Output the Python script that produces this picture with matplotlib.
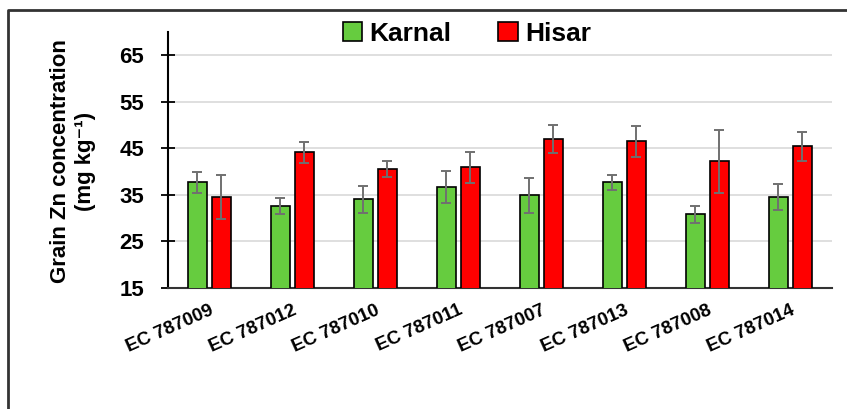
import numpy as np
import matplotlib
matplotlib.use('Agg')
import matplotlib.pyplot as plt
from matplotlib.lines import Line2D

plt.rcParams['font.family'] = ['Liberation Sans', 'DejaVu Sans']

# genotypes and grain Zn values
genotypes = ['EC 787009', 'EC 787012', 'EC 787010', 'EC 787011',
             'EC 787007', 'EC 787013', 'EC 787008', 'EC 787014']
karnal = [37.7, 32.6, 34.0, 36.7, 34.9, 37.7, 30.8, 34.5]
karnal_err = [2.2, 1.7, 3.0, 3.5, 3.7, 1.6, 1.9, 2.8]
hisar = [34.5, 44.1, 40.5, 40.9, 46.9, 46.5, 42.2, 45.4]
hisar_err = [4.7, 2.3, 1.7, 3.3, 3.0, 3.3, 6.7, 3.1]
yticks = [15, 25, 35, 45, 55, 65]

fig = plt.figure(figsize=(8.47, 4.09), dpi=100)
ax = fig.add_axes([0.198, 0.296, 0.784, 0.626])

x = np.arange(len(genotypes))
w = 0.23
off = 0.145
err_kw = dict(ecolor='#707070', elinewidth=1.4, capsize=3.5, capthick=1.4)
ax.bar(x - off, karnal, w, bottom=0, color='#66CC3F', edgecolor='black', linewidth=1.2,
       yerr=karnal_err, error_kw=err_kw, label='Karnal', zorder=3)
ax.bar(x + off, hisar, w, bottom=0, color='#FF0000', edgecolor='black', linewidth=1.2,
       yerr=hisar_err, error_kw=err_kw, label='Hisar', zorder=3)

ax.set_xlim(-0.5, len(genotypes) - 0.5)
ax.set_ylim(15, 70)
ax.set_yticks(yticks)
ax.set_yticklabels([str(t) for t in yticks], fontsize=16, fontweight='bold')
ax.tick_params(axis='y', direction='inout', length=10, width=1.3, pad=12)
ax.set_xticks(x)
ax.set_xticklabels(genotypes, rotation=24, ha='right', rotation_mode='anchor',
                   fontsize=13.5, fontweight='bold')
ax.tick_params(axis='x', length=0, pad=10)
ax.yaxis.grid(True, color='#D9D9D9', linewidth=1.2, zorder=0)
ax.set_axisbelow(True)
for s in ['top', 'right']:
    ax.spines[s].set_visible(False)
ax.spines['left'].set_linewidth(1.5)
ax.spines['bottom'].set_linewidth(1.5)
ax.spines['bottom'].set_color('#333333')

fig.text(0.071, 0.606, 'Grain Zn concentration', rotation=90, ha='center', va='center',
         fontsize=16, fontweight='bold')
fig.text(0.101, 0.606, '(mg kg⁻¹)', rotation=90, ha='center', va='center',
         fontsize=16, fontweight='bold')

fig.legend(loc='center', bbox_to_anchor=(0.551, 0.918), ncol=2, frameon=False,
           prop={'weight': 'bold', 'size': 19}, handlelength=0.75, handleheight=0.75,
           handletextpad=0.25, columnspacing=1.8)

# partial frame around the chart (left and top edges)
fig.add_artist(Line2D([0.0095, 0.0095, 1.0], [0.0, 0.976, 0.976], transform=fig.transFigure,
                      color='#333333', linewidth=2))

fig.savefig('out.png', dpi=100)
